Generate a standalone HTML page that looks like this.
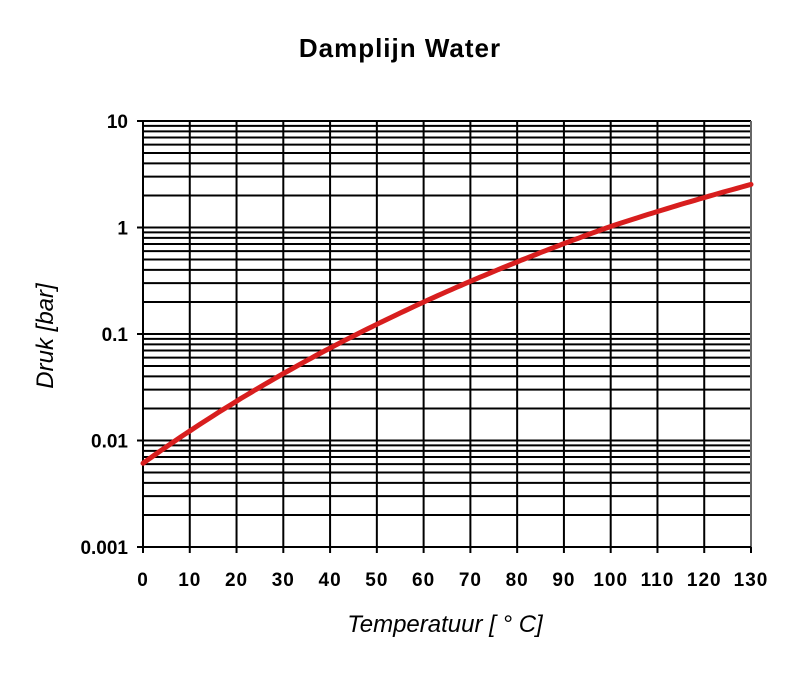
<!DOCTYPE html>
<html><head><meta charset="utf-8"><style>
body{margin:0;background:#fff;width:800px;height:672px;overflow:hidden;font-family:"Liberation Sans",Arial,sans-serif}
</style></head><body>
<svg id="s" width="800" height="672" xmlns="http://www.w3.org/2000/svg" font-family="Liberation Sans, Arial, sans-serif">
<text x="400" y="57" text-anchor="middle" font-size="26" font-weight="bold" letter-spacing="1">Damplijn Water</text>
<text x="445" y="632" text-anchor="middle" font-size="24" font-style="italic">Temperatuur [ ° C]</text>
<text transform="translate(53,336) rotate(-90)" text-anchor="middle" font-size="24" font-style="italic">Druk [bar]</text>
<g id="g" stroke="#000" stroke-width="2"></g>
<g id="t" font-size="19" font-weight="bold"></g>
<path id="c" fill="none" stroke="#d81e1e" stroke-width="5" stroke-linecap="round"/>
</svg>
<script>
var L=143,R=751,T=121,B=547,D=(B-T)/4,NS="http://www.w3.org/2000/svg";
var g=document.getElementById('g'),t=document.getElementById('t');
function ln(x1,y1,x2,y2,c,w){var e=document.createElementNS(NS,'line');e.setAttribute('x1',x1);e.setAttribute('y1',y1);e.setAttribute('x2',x2);e.setAttribute('y2',y2);if(c)e.setAttribute('stroke',c);if(w)e.setAttribute('stroke-width',w);g.appendChild(e);}
function tx(x,y,s,a,ls){var e=document.createElementNS(NS,'text');e.setAttribute('x',x);e.setAttribute('y',y);e.setAttribute('text-anchor',a);if(ls)e.setAttribute('letter-spacing',ls);e.textContent=s;t.appendChild(e);}
function X(v){return L+(R-L)*v/130}
function Y(p){return B-(Math.log10(p)+3)*D}
for(var d=0;d<4;d++){for(var k=1;k<10;k++){var y=B-(d+Math.log10(k))*D;ln(L,y,R,y);}}
ln(L,T,R,T);
for(var v=0;v<=130;v+=10){var x=X(v);ln(x,T,x,B+6);tx(x,B+39,String(v),'middle','1');}
ln(R,T,R,B,'#888',1.5);
ln(L-6,B,R,B);
var lab=['0.001','0.01','0.1','1','10'];
for(var i=0;i<5;i++){var y=B-i*D;ln(L-6,y,L,y);tx(128,y+7,lab[i],'end');}
var p='';for(var v=0;v<=130;v+=1){var pr=0.00611*Math.exp(17.27*v/(v+237.3));if(v>100)pr*=1-0.08*(v-100)/30;p+=(v?'L':'M')+X(v).toFixed(1)+' '+Y(pr).toFixed(1);}
document.getElementById('c').setAttribute('d',p);
</script>
</body></html>
